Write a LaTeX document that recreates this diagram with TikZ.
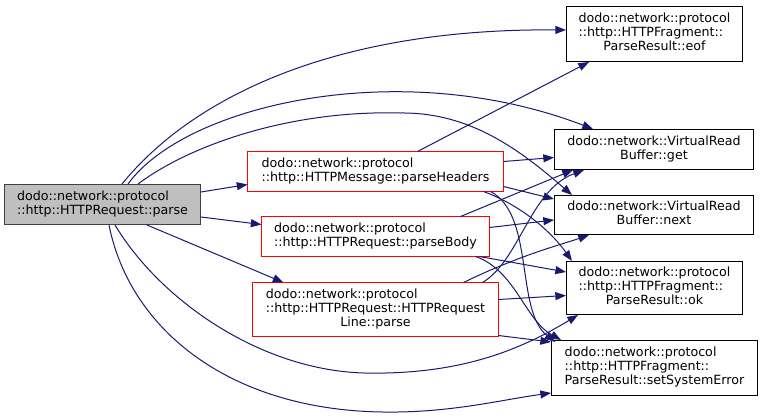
\documentclass[tikz,border=0pt]{standalone}
\usepackage{fontspec}
\setmainfont{DejaVu Sans}
\usetikzlibrary{arrows.meta}
\definecolor{edgeblue}{HTML}{191970}
\definecolor{rootfill}{HTML}{BFBFBF}
\definecolor{rimgrey}{HTML}{404040}
\definecolor{hidred}{HTML}{FF0000}
% first lines left aligned, last line centred
\newcommand{\dlab}[2]{\begin{tabular}{@{}l@{}}#1\\\multicolumn{1}{@{}c@{}}{#2}\end{tabular}}
\begin{document}
\begin{tikzpicture}[
    x=0.75pt, y=-0.75pt,
    fn/.style={draw=black, fill=white, line width=0.75pt, inner sep=0pt,
      font=\fontsize{9.5}{10.5}\selectfont},
    rootfn/.style={fn, draw=rimgrey, fill=rootfill},
    hidfn/.style={fn, draw=hidred, outer sep=0pt},
    frame/.style={hidred, line width=0.75pt},
    call/.style={-{Triangle[length=8pt, width=6pt]}, edgeblue, line width=0.75pt},
  ]
  \useasboundingbox (0,0) rectangle (763,418);
  \node[rootfn, minimum width=147pt, minimum height=30pt] (root) at (102.5,204.5)
    {\dlab{dodo::network::protocol}{::http::HTTPRequest::parse}};
  \node[hidfn, minimum width=192pt, minimum height=30pt] (hdrs) at (375.5,171.5)
    {\dlab{dodo::network::protocol}{::http::HTTPMessage::parseHeaders}};
  \node[hidfn, minimum width=171pt, minimum height=30pt] (body) at (375.5,236.5)
    {\dlab{dodo::network::protocol}{::http::HTTPRequest::parseBody}};
  \node[hidfn, minimum width=184.5pt, minimum height=40.5pt] (rline) at (375.5,309.5)
    {\dlab{dodo::network::protocol\\::http::HTTPRequest::HTTPRequest}{Line::parse}};
  \node[fn, minimum width=132pt, minimum height=41.25pt] (eof) at (654.5,34)
    {\dlab{dodo::network::protocol\\::http::HTTPFragment::}{ParseResult::eof}};
  \node[fn, minimum width=149.25pt, minimum height=30pt] (get) at (654,149.5)
    {\dlab{dodo::network::VirtualRead}{Buffer::get}};
  \node[fn, minimum width=149.25pt, minimum height=29.25pt] (next) at (654,215)
    {\dlab{dodo::network::VirtualRead}{Buffer::next}};
  \node[fn, minimum width=132pt, minimum height=39.75pt] (ok) at (654.5,288)
    {\dlab{dodo::network::protocol\\::http::HTTPFragment::}{ParseResult::ok}};
  \node[fn, minimum width=154.5pt, minimum height=41.25pt] (sse) at (654.5,368)
    {\dlab{dodo::network::protocol\\::http::HTTPFragment::}{ParseResult::setSystemError}};
  % red rims again, right on top of the node borders
  \foreach \n in {hdrs, body, rline}
    \draw[frame] (\n.south west) rectangle (\n.north east);

  % calls of HTTPRequest::parse
  \draw[call] ([shift={(0,8)}]root.north east) -- ([shift={(0,-7)}]hdrs.south west);
  \draw[call] ([shift={(0,-8)}]root.south east) -- ([shift={(0,8)}]body.north west);
  \draw[call] ([shift={(143,0)}]root.south west) -- ([shift={(31,0)}]rline.north west);
  \draw[call] ([shift={(118,0)}]root.north west) .. controls (190,100) and (330,28) .. ([shift={(0,-4)}]eof.west);
  \draw[call] ([shift={(124,0)}]root.north west) .. controls (185,105) and (400,55) .. ([shift={(39,0)}]get.north west);
  \draw[call] ([shift={(134,0)}]root.north west) .. controls (190,145) and (290,110) .. (400,113)
    .. controls (470,112) and (520,150) .. ([shift={(18,0)}]next.north west);
  \draw[call] ([shift={(111,0)}]root.south west) .. controls (160,300) and (260,370) .. (364,373)
    .. controls (460,375) and (520,350) .. ([shift={(12,0)}]ok.south west);
  \draw[call] ([shift={(105,0)}]root.south west) .. controls (130,330) and (230,410) .. (383,412)
    .. controls (450,413) and (500,400) .. ([shift={(0,-3)}]sse.south west);

  % calls of parseHeaders
  \draw[call] ([shift={(170,0)}]hdrs.north west) -- ([shift={(23,0)}]eof.south west);
  \draw[call] ([shift={(0,10)}]hdrs.north east) -- ([shift={(0,8)}]get.west);
  \draw[call] ([shift={(0,-5)}]hdrs.south east) -- ([shift={(0,-16)}]next.west);
  \draw[call] ([shift={(236,0)}]hdrs.south west) .. controls (520,205) and (550,230) .. ([shift={(6,0)}]ok.north west);
  \draw[call] ([shift={(243,0)}]hdrs.south west) .. controls (535,215) and (515,310) .. ([shift={(4,2)}]sse.north west);

  % calls of parseBody
  \draw[call] ([shift={(199,0)}]body.north west) -- ([shift={(19,0)}]get.south west);
  \draw[call] ([shift={(0,-9)}]body.east) -- ([shift={(0,5)}]next.west);
  \draw[call] ([shift={(-10,0)}]body.south east) -- ([shift={(0,11)}]ok.north west);
  \draw[call] ([shift={(-14,0)}]body.south east) .. controls (515,270) and (525,320) .. ([shift={(10,0)}]sse.north west);

  % calls of HTTPRequestLine::parse
  \draw[call] ([shift={(230,0)}]rline.north west) .. controls (520,260) and (530,190) .. ([shift={(30,0)}]get.south west);
  \draw[call] ([shift={(211,0)}]rline.north west) .. controls (520,255) and (560,245) .. ([shift={(35,0)}]next.south west);
  \draw[call] ([shift={(0,-10)}]rline.east) -- ([shift={(0,7.5)}]ok.west);
  \draw[call] ([shift={(0,26)}]rline.east) -- ([shift={(0,2)}]sse.north west);
\end{tikzpicture}
\end{document}
